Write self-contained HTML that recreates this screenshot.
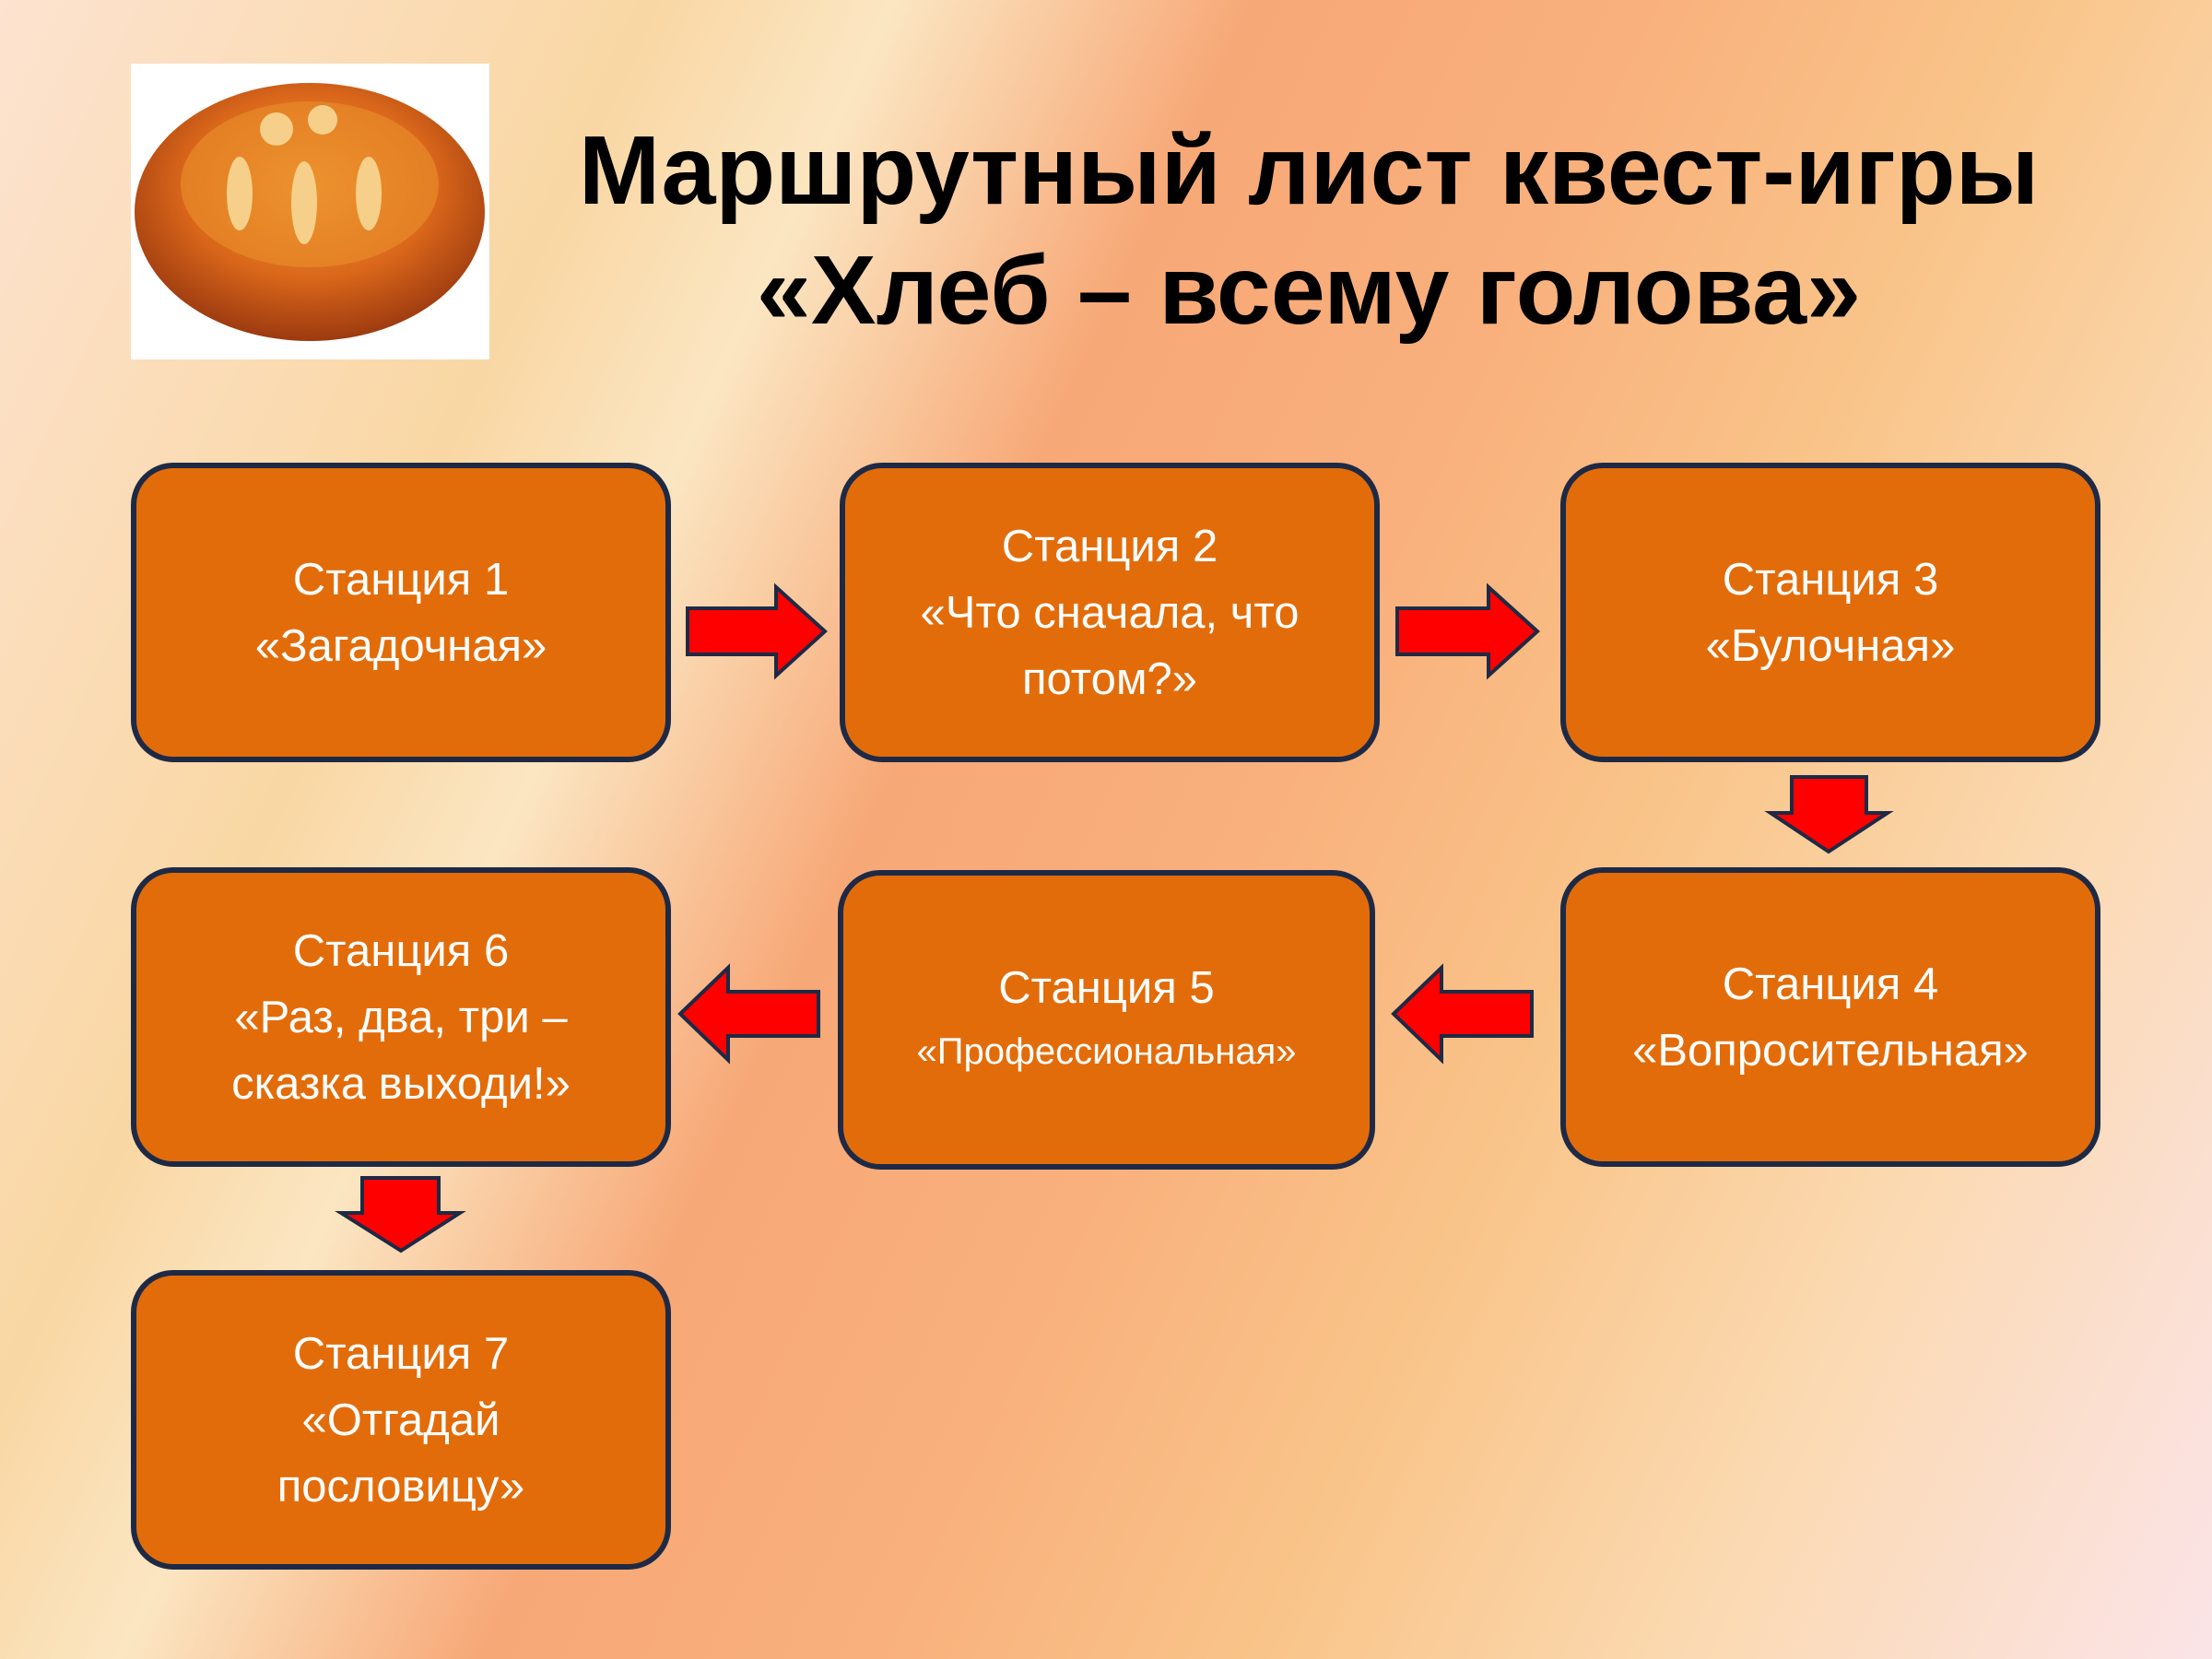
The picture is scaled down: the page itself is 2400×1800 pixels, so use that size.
<!DOCTYPE html>
<html><head><meta charset="utf-8"><style>
html,body{margin:0;padding:0}
body{width:2400px;height:1800px;position:relative;overflow:hidden;font-family:"Liberation Sans",sans-serif;
background:linear-gradient(115deg,#fde3d0 0%,#f9d7a4 22%,#fbe6c2 30%,#f7a877 42%,#f9b07c 55%,#f9c489 68%,#fbd9b0 82%,#fbe4e8 100%);}
.t{position:absolute;left:560px;width:1720px;text-align:center;font-weight:bold;font-size:106px;color:#000}
.b{position:absolute;width:574px;height:313px;background:#e36c0a;border:6px solid #1e2a45;border-radius:46px;box-sizing:content-box;display:flex;align-items:center;justify-content:center;text-align:center;color:#fff;font-size:49px;line-height:72px}
svg{position:absolute;left:0;top:0}
</style></head><body>
<div style="position:absolute;left:142px;top:69px;width:389px;height:321px;background:#fff"></div>
<svg width="2400" height="1800">
<defs><radialGradient id="g" cx="50%" cy="40%" r="60%"><stop offset="0" stop-color="#f6a53a"/><stop offset="0.6" stop-color="#d9661a"/><stop offset="1" stop-color="#9c3a10"/></radialGradient></defs>
<ellipse cx="336" cy="230" rx="190" ry="140" fill="url(#g)"/>
<ellipse cx="336" cy="200" rx="140" ry="90" fill="#e88a2a" opacity="0.7"/>
<g fill="#f6d08a"><circle cx="300" cy="140" r="18"/><circle cx="350" cy="130" r="16"/><ellipse cx="260" cy="210" rx="14" ry="40"/><ellipse cx="400" cy="210" rx="14" ry="40"/><ellipse cx="330" cy="220" rx="14" ry="45"/></g>
<g fill="#ff0000" stroke="#1e2a45" stroke-width="4">
<polygon points="746,660 842,660 842,637 895,685 842,733 842,710 746,710"/>
<polygon points="1516,660 1615,660 1615,637 1668,685 1615,733 1615,710 1516,710"/>
<polygon points="1944,843 2025,843 2025,882 2048,882 1984,924 1921,882 1944,882"/>
<polygon points="888,1076 790,1076 790,1050 738,1100 790,1150 790,1124 888,1124"/>
<polygon points="1662,1076 1564,1076 1564,1050 1512,1100 1564,1150 1564,1124 1662,1124"/>
<polygon points="393,1278 476,1278 476,1316 499,1316 435,1357 370,1316 393,1316"/>
</g></svg>
<div class="t" style="top:120px;line-height:130px">Маршрутный лист квест-игры</div>
<div class="t" style="top:250px;line-height:130px">«Хлеб – всему голова»</div>
<div class="b" style="left:142px;top:502px">Станция 1<br>«Загадочная»</div>
<div class="b" style="left:911px;top:502px">Станция 2<br>«Что сначала, что<br>потом?»</div>
<div class="b" style="left:1693px;top:502px">Станция 3<br>«Булочная»</div>
<div class="b" style="left:142px;top:941px">Станция 6<br>«Раз, два, три –<br>сказка выходи!»</div>
<div class="b" style="left:909px;top:944px;width:571px;font-size:40px;line-height:66px"><div><span style="font-size:49px">Станция 5</span><br>«Профессиональная»</div></div>
<div class="b" style="left:1693px;top:941px">Станция 4<br>«Вопросительная»</div>
<div class="b" style="left:142px;top:1378px">Станция 7<br>«Отгадай<br>пословицу»</div>
</body></html>
